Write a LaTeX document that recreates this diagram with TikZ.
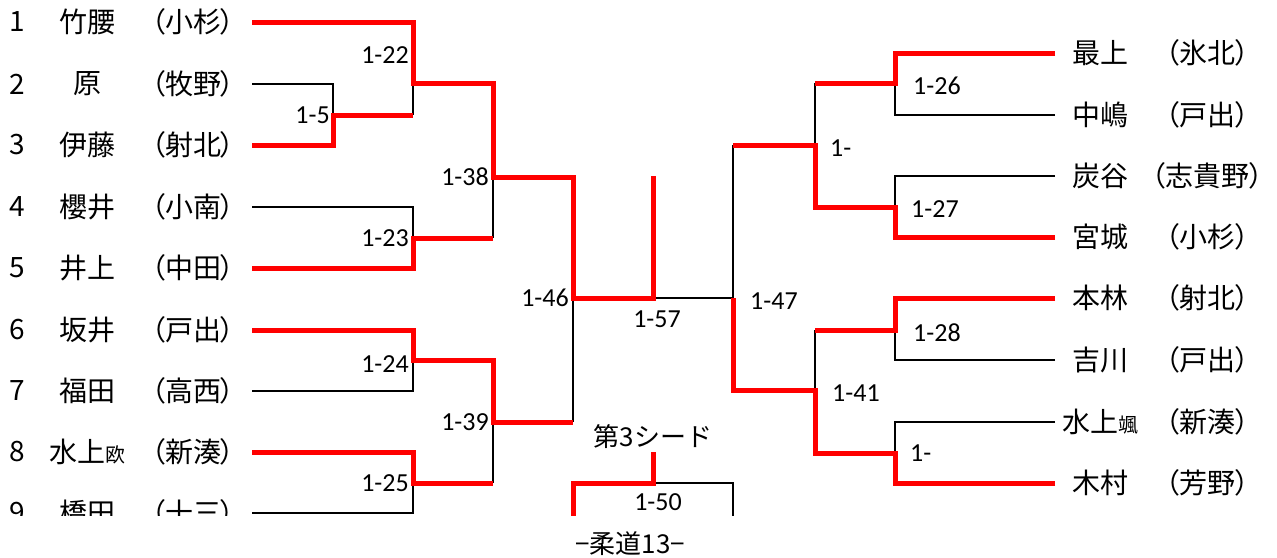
\documentclass[tikz,border=0pt]{standalone}
\usepackage{fontspec}
\setmainfont{Noto Sans CJK JP}
\newfontfamily\palfont[RawFeature={+palt}]{Noto Sans CJK JP}
\newfontfamily\scorefont{Carlito}
\usetikzlibrary{positioning}
\newcommand{\smallname}[1]{{\fontsize{20}{22}\selectfont #1}}
\tikzset{
	win/.style={draw=red, line width=5pt},
	lose/.style={draw=black, line width=1.8pt},
	txt/.style={inner sep=0pt, font=\fontsize{28}{30}\selectfont},
	school/.style={inner sep=0pt, font=\palfont\fontsize{28}{30}\selectfont},
	score/.style={inner sep=0pt, font=\scorefont\fontsize{26}{28}\selectfont},
}
\begin{document}
\begin{tikzpicture}[x=1pt,y=-1pt]
	\useasboundingbox (0,0) rectangle (1277,557);
	\begin{scope}
		\clip (0,0) rectangle (1277,515);
		\foreach \i/\y/\nm/\sc in {1/22/竹腰/小杉, 2/84/原/牧野, 3/145/伊藤/射北, 4/207/櫻井/小南, 5/268/井上/中田, 6/330/坂井/戸出, 7/391/福田/高西, 8/452/{水上\smallname{欧}}/新湊, 9/513/橋田/十三}{
			\node[txt] (num\i) at (17,\y) {\i};
			\node[txt] (nm\i) at (87,\y) {\nm};
			\node[school] (sc\i) at (193,\y) {（\sc）};
			\coordinate (L\i) at (252,\y);
		}
		\foreach \i/\y/\nm/\sc in {1/53/最上/氷北, 2/115/中嶋/戸出, 3/176/炭谷/志貴野, 4/237/宮城/小杉, 5/298/本林/射北, 6/360/吉川/戸出, 7/422/{水上\smallname{颯}}/新湊, 8/483/木村/芳野}{
			\node[txt] (rnm\i) at (1100,\y) {\nm};
			\node[school] (rsc\i) at (1207,\y) {（\sc）};
			\coordinate (R\i) at (1055,\y);
		}

		\coordinate (m5) at (333,115);
		\coordinate (m22) at (413,83);
		\coordinate (m23) at (413,238);
		\coordinate (m24) at (413,360);
		\coordinate (m25) at (413,483);
		\coordinate (m38) at (493,177);
		\coordinate (m39) at (493,422);
		\coordinate (m46) at (573,298);
		\coordinate (m57) at (653,298);
		\coordinate (s57) at (653,176);
		\coordinate (m47) at (733,298);
		\coordinate (my) at (815,145);
		\coordinate (m41) at (815,390);
		\coordinate (m26) at (895,83);
		\coordinate (m27) at (895,207);
		\coordinate (m28) at (895,330);
		\coordinate (mx) at (895,453);
		\coordinate (s50) at (653,452);
		\coordinate (m50) at (653,483);
		\coordinate (b46) at (573,530);
		\coordinate (b47) at (733,530);

		\draw[lose] (L2) -| (m5);
		\draw[lose] (m5 -| m22) -- (m22);
		\draw[lose] (L4) -| (m23);
		\draw[lose] (m23 -| m38) -- (m38);
		\draw[lose] (L7) -| (m24);
		\draw[lose] (L9) -| (m25);
		\draw[lose] (m25 -| m39) -- (m39);
		\draw[lose] (m39 -| m46) -- (m46);
		\draw[lose] (m57) -- (m47);
		\draw[lose] (R2) -| (m26);
		\draw[lose] (m26 -| my) -- (my);
		\draw[lose] (R3) -| (m27);
		\draw[lose] (my -| m47) -- (m47);
		\draw[lose] (R6) -| (m28);
		\draw[lose] (m28 -| m41) -- (m41);
		\draw[lose] (R7) -| (mx);
		\draw[lose] (m50) -| (b47);

		\draw[win] (L1) -| (m22) -| (m38) -| (m46) -- (m57) -- (s57);
		\draw[win] (L3) -| (m5) -- (m5 -| m22);
		\draw[win] (L5) -| (m23) -- (m23 -| m38);
		\draw[win] (L6) -| (m24) -| (m39) -- (m39 -| m46);
		\draw[win] (L8) -| (m25) -- (m25 -| m39);
		\draw[win] (R1) -| (m26) -- (m26 -| my);
		\draw[win] (R4) -| (m27) -| (my) -- (my -| m47);
		\draw[win] (R5) -| (m28) -- (m28 -| m41);
		\draw[win] (R8) -| (mx) -| (m41) -| (m47);
		\draw[win] (s50) -- (m50) -| (b46);

		\node[score, left=3pt of m5] (t5) {1-5};
		\node[score, left=4pt of m22, yshift=28pt] (t22) {1-22};
		\node[score, left=4pt of m23] (t23) {1-23};
		\node[score, left=4pt of m24, yshift=-4pt] (t24) {1-24};
		\node[score, left=4pt of m25] (t25) {1-25};
		\node[score, left=4pt of m38] (t38) {1-38};
		\node[score, left=4pt of m39] (t39) {1-39};
		\node[score, left=4pt of m46] (t46) {1-46};
		\node[score, below=13pt of m57, xshift=4pt] (t57) {1-57};
		\node[score, right=17pt of m47, yshift=-3pt] (t47) {1-47};
		\node[score, right=15pt of my, yshift=-3pt] (ty) {1-};
		\node[score, right=17pt of m41, yshift=-3pt] (t41) {1-41};
		\node[score, right=18pt of m26, yshift=-3pt] (t26) {1-26};
		\node[score, right=16pt of m27, yshift=-2pt] (t27) {1-27};
		\node[score, right=18pt of m28, yshift=-3pt] (t28) {1-28};
		\node[score, right=15pt of mx] (tx) {1-};
		\node[txt, font=\fontsize{26}{28}\selectfont, above=3pt of s50] (seed) {第3シード};
		\node[score, below=10pt of m50, xshift=5pt] (t50) {1-50};
	\end{scope}
	\node[txt, font=\fontsize{26}{28}\selectfont] (title) at (630,544) {−柔道13−};
\end{tikzpicture}
\end{document}
